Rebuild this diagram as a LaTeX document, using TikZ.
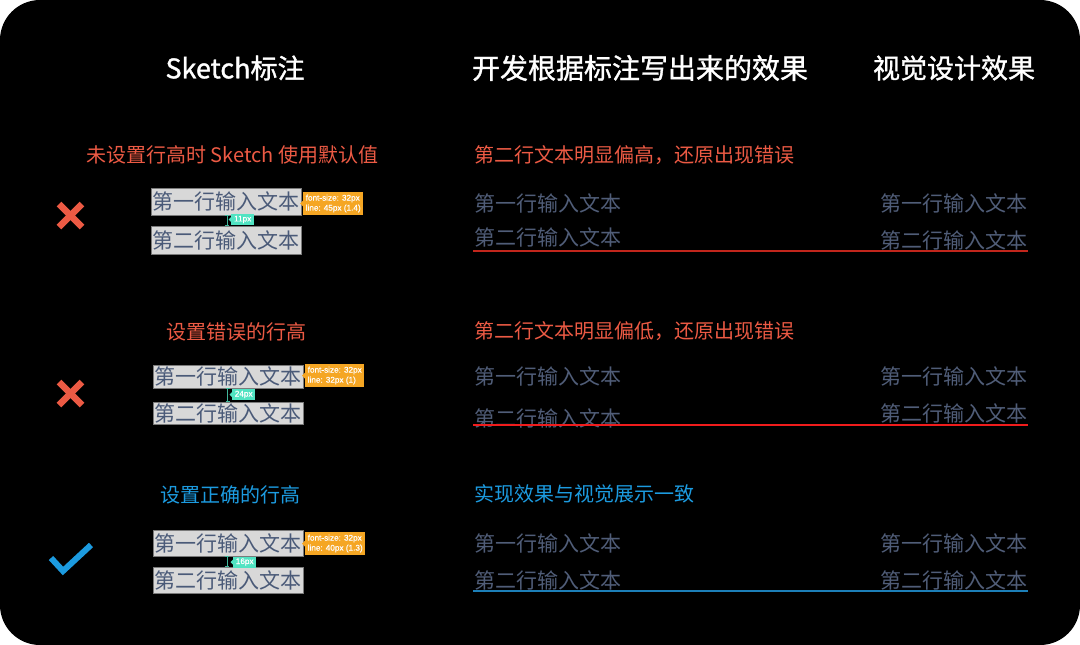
\documentclass[tikz,border=0pt]{standalone}
\usepackage{fontspec}
\setmainfont{Noto Sans CJK SC}
\newfontfamily\headfont{Noto Sans CJK SC}[FakeBold=1.2]
\newfontfamily\tagfont{Liberation Sans}[FakeBold=0.5]
\definecolor{redtxt}{HTML}{EC5A44}
\definecolor{bluetxt}{HTML}{1C9BE0}
\definecolor{boxgray}{HTML}{D8D8D8}
\definecolor{boxedge}{HTML}{7A7A7A}
\definecolor{boxtext}{HTML}{4A5A78}
\definecolor{devgray}{HTML}{505D78}
\definecolor{tagorange}{HTML}{F5A623}
\definecolor{tagteal}{HTML}{50E3C2}
\definecolor{lineone}{HTML}{C2261C}
\definecolor{linetwo}{HTML}{F01C1C}
\definecolor{linethree}{HTML}{1C7FB8}
\begin{document}
\begin{tikzpicture}[x=1pt,y=-1pt,
  head/.style={text=white,font=\headfont\fontsize{27}{30}\selectfont,inner sep=0},
  lab/.style={font=\fontsize{20}{24}\selectfont,inner sep=0,anchor=west},
  sbox/.style={fill=boxgray,draw=boxedge,line width=0.8pt,text=boxtext,font=\fontsize{21}{24}\selectfont,inner sep=0,minimum width=150},
  dtext/.style={text=devgray,font=\fontsize{21}{24}\selectfont,inner sep=0},
  otag/.style={fill=tagorange,text=white,font=\tagfont\fontsize{8.2}{10}\selectfont,align=left,inner xsep=2.5pt,inner ysep=0pt,minimum width=59,minimum height=23,anchor=west},
  ttag/.style={fill=tagteal,text=white,font=\tagfont\fontsize{8.2}{8}\selectfont,inner sep=0,minimum width=23,minimum height=11,anchor=west},
  dimline/.style={draw=tagteal!80!black,line width=0.8pt},
  crossmark/.style={line width=6.5pt},
  uline/.style={line width=1.4pt}
]
\fill[white] (0,0) rectangle (1080,645);
\fill[black,rounded corners=40pt] (0,0) rectangle (1080,645);
\useasboundingbox (0,0) rectangle (1080,645);

% headers
\node[head] (h1) at (235,68) {Sketch标注};
\node[head,font=\headfont\fontsize{28}{30}\selectfont] (h2) at (640,68) {开发根据标注写出来的效果};
\node[head] (h3) at (954,68) {视觉设计效果};

% ---------- row 1 ----------
\node[lab,text=redtxt] (l1) at (86,155) {未设置行高时 Sketch 使用默认值};
\node[lab,text=redtxt] (r1) at (474,155) {第二行文本明显偏高，还原出现错误};
\draw[redtxt,crossmark] (59,204) -- (82,227);
\draw[redtxt,crossmark] (82,204) -- (59,227);
\node[sbox,minimum height=27] (b11) at (226,201.5) {第一行输入文本};
\node[sbox,minimum height=28] (b12) at (226,240) {第二行输入文本};
\node[otag] (o1) at (303,203.5) {font-size: 32px\\line: 45px (1.4)};
\fill[tagorange] ([yshift=-3]o1.west) -- ([xshift=-3]o1.west) -- ([yshift=3]o1.west) -- cycle;
\coordinate (x1) at (227,0);
\draw[dimline] (b11.south -| x1) -- (b12.north -| x1);
\draw[dimline] ([xshift=-2]b11.south -| x1) -- ([xshift=2]b11.south -| x1);
\draw[dimline] ([xshift=-2]b12.north -| x1) -- ([xshift=2]b12.north -| x1);
\node[ttag] (t1) at (231,219.5) {11px};
\fill[tagteal] ([yshift=-2.5]t1.west) -- ([xshift=-2.5]t1.west) -- ([yshift=2.5]t1.west) -- cycle;
\node[dtext,anchor=west] (d11) at (474,203) {第一行输入文本};
\node[dtext,anchor=west] (d12) at (474,237) {第二行输入文本};
\node[dtext,anchor=east] (v11) at (1028,203) {第一行输入文本};
\node[dtext,anchor=east] (v12) at (1028,240) {第二行输入文本};
\coordinate (u1a) at (473,251);
\coordinate (u1b) at (1028,251);
\draw[lineone,uline] (u1a) -- (u1b);

% ---------- row 2 ----------
\node[lab,text=redtxt] (l2) at (166,332) {设置错误的行高};
\node[lab,text=redtxt] (r2) at (474,331) {第二行文本明显偏低，还原出现错误};
\draw[redtxt,crossmark] (59,382) -- (82,405);
\draw[redtxt,crossmark] (82,382) -- (59,405);
\node[sbox,minimum height=23] (b21) at (228,376.5) {第一行输入文本};
\node[sbox,minimum height=22] (b22) at (228,413) {第二行输入文本};
\node[otag] (o2) at (305,375.5) {font-size: 32px\\line: 32px (1)};
\fill[tagorange] ([yshift=-3]o2.west) -- ([xshift=-3]o2.west) -- ([yshift=3]o2.west) -- cycle;
\coordinate (x2) at (227.5,0);
\draw[dimline] (b21.south -| x2) -- (b22.north -| x2);
\draw[dimline] ([xshift=-2]b21.south -| x2) -- ([xshift=2]b21.south -| x2);
\draw[dimline] ([xshift=-2]b22.north -| x2) -- ([xshift=2]b22.north -| x2);
\node[ttag] (t2) at (232,394.5) {24px};
\fill[tagteal] ([yshift=-2.5]t2.west) -- ([xshift=-2.5]t2.west) -- ([yshift=2.5]t2.west) -- cycle;
\node[dtext,anchor=west] (d21) at (474,376) {第一行输入文本};
\node[dtext,anchor=west] (d22) at (474,418) {第二行输入文本};
\node[dtext,anchor=east] (v21) at (1028,376) {第一行输入文本};
\node[dtext,anchor=east] (v22) at (1028,413) {第二行输入文本};
\coordinate (u2a) at (473,425);
\coordinate (u2b) at (1028,425);
\draw[linetwo,uline] (u2a) -- (u2b);

% ---------- row 3 ----------
\node[lab,text=bluetxt] (l3) at (160,495) {设置正确的行高};
\node[lab,text=bluetxt] (r3) at (474,494) {实现效果与视觉展示一致};
\draw[bluetxt,line width=6pt] (51,558) -- (63,571) -- (91,545);
\node[sbox,minimum height=26] (b31) at (228,543) {第一行输入文本};
\node[sbox,minimum height=26] (b32) at (228,580) {第二行输入文本};
\node[otag] (o3) at (305,543.5) {font-size: 32px\\line: 40px (1.3)};
\fill[tagorange] ([yshift=-3]o3.west) -- ([xshift=-3]o3.west) -- ([yshift=3]o3.west) -- cycle;
\coordinate (x3) at (227,0);
\draw[dimline] (b31.south -| x3) -- (b32.north -| x3);
\draw[dimline] ([xshift=-2]b31.south -| x3) -- ([xshift=2]b31.south -| x3);
\draw[dimline] ([xshift=-2]b32.north -| x3) -- ([xshift=2]b32.north -| x3);
\node[ttag] (t3) at (233,562) {16px};
\fill[tagteal] ([yshift=-2.5]t3.west) -- ([xshift=-2.5]t3.west) -- ([yshift=2.5]t3.west) -- cycle;
\node[dtext,anchor=west] (d31) at (474,543) {第一行输入文本};
\node[dtext,anchor=west] (d32) at (474,580) {第二行输入文本};
\node[dtext,anchor=east] (v31) at (1028,543) {第一行输入文本};
\node[dtext,anchor=east] (v32) at (1028,580) {第二行输入文本};
\coordinate (u3a) at (473,591);
\coordinate (u3b) at (1028,591);
\draw[linethree,uline] (u3a) -- (u3b);
\end{tikzpicture}
\end{document}
